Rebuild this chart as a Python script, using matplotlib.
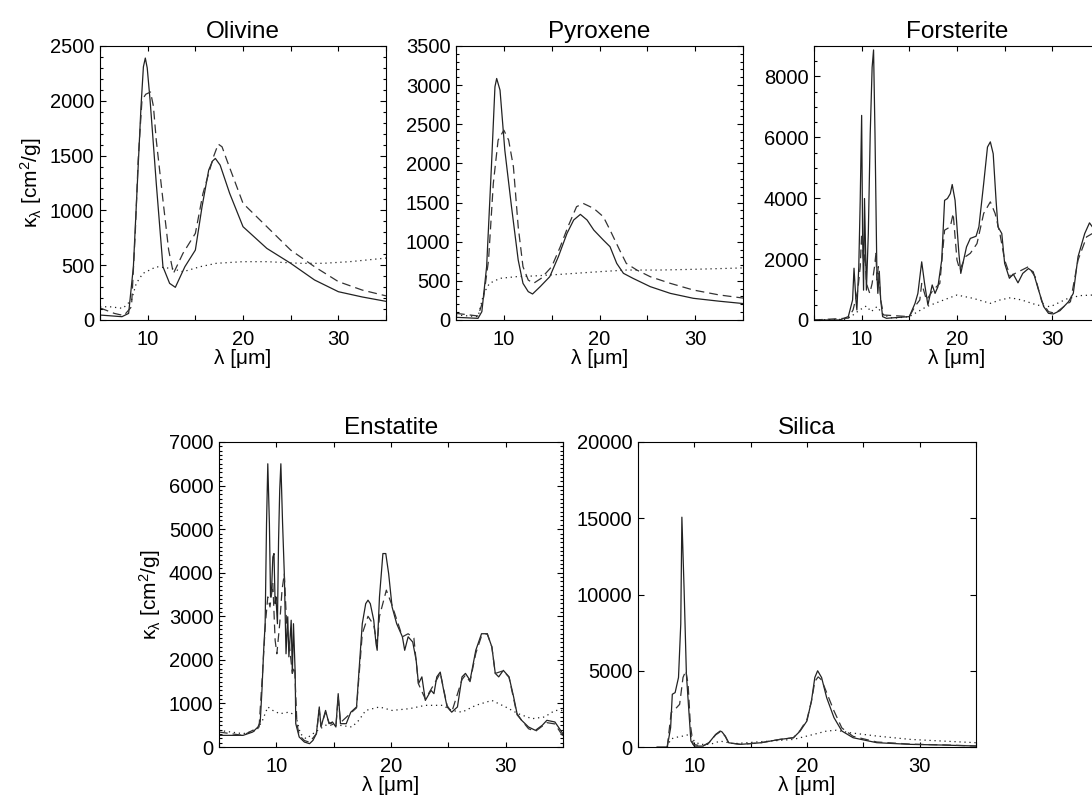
import numpy as np
import matplotlib
matplotlib.use("Agg")
import matplotlib.pyplot as plt
from matplotlib.ticker import FixedLocator, MultipleLocator, NullLocator

plt.rcParams['font.family'] = ['Liberation Sans', 'DejaVu Sans']
plt.rcParams['mathtext.fontset'] = 'custom'
plt.rcParams['mathtext.rm'] = 'Liberation Sans'
plt.rcParams['mathtext.default'] = 'regular'

# --- Olivine
oli_sol_x = [5, 7.3, 8.0, 8.5, 9.0, 9.3, 9.55, 9.75, 9.95, 10.25, 10.6, 10.9, 11.6, 12.3, 12.9, 13.9, 15.0, 15.7, 16.4, 16.8, 17.1, 17.6, 18.6, 20.0, 22.5, 25.0, 27.5, 30.0, 32.5, 35]
oli_sol_y = [45, 30, 60, 486, 1400, 1950, 2310, 2390, 2300, 2006, 1600, 1246, 486, 334, 298, 486, 638, 1033, 1368, 1450, 1474, 1413, 1155, 851, 653, 517, 365, 258, 210, 170]
oli_das_x = [5, 6.5, 7.5, 8.3, 8.7, 9.0, 9.4, 9.8, 10.3, 10.6, 10.9, 11.6, 12.2, 12.7, 13.7, 15.0, 15.8, 16.9, 17.4, 17.8, 18.3, 20.0, 22.5, 25.0, 27.5, 30.0, 32.5, 35]
oli_das_y = [110, 60, 40, 120, 800, 1460, 2006, 2060, 2080, 1950, 1641, 1094, 638, 425, 608, 790, 1155, 1489, 1605, 1580, 1459, 1064, 851, 638, 486, 350, 273, 220]
oli_dot_x = [5, 6, 7.4, 8.3, 8.8, 9.5, 10.9, 12.5, 13.7, 15.5, 17.2, 20, 22.5, 26, 28.4, 31.2, 33.3, 35]
oli_dot_y = [120, 121, 106, 182, 334, 425, 486, 470, 440, 486, 517, 532, 532, 517, 517, 532, 550, 565]

# --- Pyroxene
pyr_sol_x = [5, 7.3, 7.7, 8.2, 8.7, 9.07, 9.25, 9.6, 10.1, 10.8, 11.5, 12.0, 12.55, 13.0, 13.8, 14.8, 15.7, 16.6, 17.3, 18.0, 18.7, 19.4, 20.4, 21.1, 21.8, 22.5, 23.5, 25.3, 27.4, 29.8, 32.5, 35]
pyr_sol_y = [34, 21, 106, 681, 1957, 2979, 3085, 2936, 2170, 1447, 766, 468, 362, 332, 426, 553, 809, 1106, 1277, 1349, 1277, 1149, 1021, 936, 723, 596, 532, 426, 340, 277, 240, 210]
pyr_das_x = [5, 7.3, 7.85, 8.4, 8.9, 9.4, 10.0, 10.5, 11.0, 11.5, 12.0, 12.55, 13.1, 13.9, 15.0, 15.9, 16.7, 17.6, 18.3, 19.4, 20.4, 21.1, 22.1, 22.8, 23.9, 25.3, 27.4, 29.8, 32.5, 35]
pyr_das_y = [85, 51, 255, 766, 1745, 2298, 2425, 2298, 1957, 1191, 681, 510, 468, 532, 680, 936, 1191, 1447, 1489, 1425, 1319, 1149, 894, 723, 638, 553, 468, 383, 320, 280]
pyr_dot_x = [5, 7.3, 7.9, 8.5, 9.6, 11.3, 13.1, 15.9, 20, 22.8, 26.3, 29.8, 33.6, 35]
pyr_dot_y = [64, 42, 340, 468, 532, 553, 562, 583, 617, 638, 638, 647, 660, 665]

# --- Forsterite
for_sol_x = [5, 7.7, 8.6, 9.05, 9.2, 9.4, 9.5, 9.7, 9.85, 10.0, 10.1, 10.2, 10.3, 10.5, 10.7, 10.9, 11.1, 11.25, 11.4, 11.6,
             11.7, 11.85, 12.0, 12.2, 12.6, 15.0, 15.6, 15.9, 16.3, 16.6, 16.95, 17.4, 17.7, 18.0, 18.4, 18.7, 19.0, 19.3, 19.5, 19.8,
             20.2, 20.4, 20.7, 21.0, 21.4, 22.0, 22.3, 22.8, 23.2, 23.5, 23.8, 24.1, 24.3, 24.7, 25.0, 25.5, 25.9, 26.4, 26.9, 27.5,
             28.0, 28.5, 29.1, 29.6, 30.1, 30.8, 31.7, 32.2, 32.7, 33.4, 33.9, 34.2, 35]
for_sol_y = [0, 0, 110, 656, 1700, 656, 330, 1750, 3930, 6720, 2840, 980, 3990, 980, 2840, 6120, 8300, 8870, 6120, 1530,
             874, 1600, 656, 110, 55, 110, 546, 874, 1910, 1200, 490, 1150, 874, 1090, 1970, 3930, 3990, 4150, 4450, 3930,
             2190, 1530, 1970, 2400, 2680, 2750, 3060, 4480, 5680, 5850, 5460, 3930, 3060, 2840, 1860, 1370, 1510, 1220, 1530, 1690,
             1580, 1040, 437, 218, 197, 306, 600, 874, 2080, 2840, 3190, 3060, 2900]
for_das_x = [5, 8.6, 9.1, 9.6, 9.85, 10.0, 10.2, 10.35, 10.5, 10.85, 11.1, 11.35, 11.5, 11.6, 11.75, 12.0, 12.3, 15.0, 15.6, 16.1,
             16.3, 16.8, 17.5, 18.2, 18.7, 19.3, 19.6, 20.0, 20.3, 20.9, 21.4, 22.1, 22.8, 23.5, 24.0, 24.5, 25.0, 25.6, 26.1, 26.8,
             27.5, 28.2, 28.9, 29.6, 30.3, 31.2, 31.9, 32.7, 33.6, 34.2, 35]
for_das_y = [0, 60, 330, 980, 1750, 2840, 1860, 2190, 1200, 874, 1200, 1750, 2190, 1310, 1750, 656, 164, 110, 450, 656,
             1200, 656, 984, 1200, 2950, 3060, 3500, 1970, 1640, 2080, 2190, 2510, 3500, 3880, 3500, 2840, 1970, 1420, 1530, 1640,
             1750, 1420, 600, 273, 218, 437, 600, 1970, 2730, 2840, 2900]
for_dot_x = [5, 8.4, 9.1, 9.8, 10.5, 11.0, 11.6, 12.3, 13.3, 15.0, 16.8, 18.6, 20.0, 21.7, 23.5, 24.5, 25.6, 26.8, 28.4, 29.8, 31.5, 32.9, 35]
for_dot_y = [0, 22, 164, 330, 460, 273, 437, 164, 55, 110, 437, 656, 820, 710, 546, 656, 730, 656, 490, 437, 690, 800, 830]

# --- Enstatite
ens_sol_x = [5, 7.1, 7.95, 8.4, 8.6, 8.75, 8.9, 9.03, 9.15, 9.26, 9.4, 9.5, 9.6, 9.7, 9.8, 9.9, 9.97, 10.1, 10.2, 10.3,
             10.4, 10.55, 10.7, 10.85, 11.0, 11.1, 11.3, 11.4, 11.5, 11.65, 11.7, 12.0, 12.45, 12.9, 13.2, 13.5, 13.75, 13.9, 14.3, 14.6,
             14.9, 15.2, 15.4, 15.6, 16.1, 16.5, 17.0, 17.2, 17.5, 17.8, 18.0, 18.2, 18.5, 18.7, 18.8, 19.0, 19.3, 19.55, 19.8, 20.1,
             20.5, 21.0, 21.2, 21.5, 21.9, 22.2, 22.4, 22.7, 23.0, 23.5, 23.75, 24.0, 24.3, 24.6, 24.9, 25.3, 25.8, 26.2, 26.5, 26.9,
             27.4, 27.9, 28.4, 28.8, 29.1, 29.4, 29.8, 30.3, 30.7, 31.0, 31.4, 32.0, 32.6, 33.2, 33.6, 34.3, 34.8, 35]
ens_sol_y = [268, 268, 345, 460, 575, 1300, 2220, 2830, 5130, 6500, 5130, 3445, 3675, 4360, 4440, 3290, 3445, 2830, 4750, 5900,
             6500, 5130, 3980, 2140, 2990, 2070, 2910, 1690, 2830, 1690, 536, 230, 115, 77, 153, 306, 920, 460, 840, 536,
             575, 460, 1225, 536, 536, 800, 920, 1690, 2830, 3290, 3370, 3290, 2910, 2370, 2220, 3445, 4440, 4440, 3980, 3215,
             2830, 2530, 2220, 2530, 2410, 1990, 1455, 1610, 1070, 1300, 1225, 1610, 1720, 1300, 920, 800, 920, 1610, 1690, 1530,
             2220, 2600, 2600, 2300, 1690, 1610, 1760, 1610, 1150, 765, 613, 460, 383, 500, 613, 575, 383, 306]
ens_das_x = [5, 7.1, 8.5, 8.8, 9.05, 9.26, 9.45, 9.7, 9.9, 10.05, 10.3, 10.5, 10.7, 10.9, 11.1, 11.4, 11.6, 11.8, 12.0, 12.45,
             12.9, 13.5, 13.75, 13.9, 14.3, 14.6, 15.2, 15.4, 15.6, 16.5, 17.0, 17.5, 18.0, 18.5, 18.8, 19.0, 19.6, 20.1, 21.0, 21.5,
             22.0, 22.4, 23.0, 24.0, 24.3, 24.9, 25.3, 26.2, 26.5, 26.9, 27.4, 27.9, 28.4, 28.8, 29.1, 29.8, 30.3, 31.0, 32.0, 32.6,
             33.6, 34.3, 35]
ens_das_y = [345, 268, 460, 1690, 2830, 3445, 3215, 3750, 2450, 2140, 2830, 3600, 3980, 2830, 2450, 1690, 1840, 536, 270, 150,
             110, 306, 850, 480, 800, 560, 480, 1150, 560, 780, 900, 2600, 3000, 2800, 2350, 3000, 3600, 3250, 2530, 2600,
             2500, 1450, 1100, 1550, 1700, 950, 800, 1550, 1650, 1500, 2150, 2550, 2600, 2300, 1690, 1750, 1600, 740, 420, 360,
             560, 530, 250]
ens_dot_x = [5, 7.1, 8.3, 8.8, 9.26, 9.7, 10.3, 11.1, 11.7, 12.1, 12.6, 13.2, 14.3, 15.5, 16.6, 17.2, 17.8, 19.0, 20.1, 21.6,
             23.0, 24.5, 25.3, 26.2, 27.4, 28.8, 30.0, 31.1, 32.3, 33.4, 34.3, 35]
ens_dot_y = [383, 306, 383, 613, 920, 840, 765, 800, 727, 306, 190, 306, 500, 500, 460, 613, 840, 920, 840, 880,
             957, 957, 840, 800, 957, 1070, 920, 765, 650, 690, 840, 840]

# --- Silica
sil_sol_x = [6.7, 7.6, 7.9, 8.05, 8.3, 8.6, 8.8, 8.9, 9.1, 9.3, 9.5, 9.7, 10.0, 10.75, 11.3, 11.9, 12.3, 12.45, 12.75, 13.05,
             14.1, 15.9, 17.6, 18.8, 19.4, 20.0, 20.4, 20.7, 20.95, 21.3, 21.75, 22.4, 23.1, 24.1, 26.2, 29.2, 32.1, 35]
sil_sol_y = [0, 0, 1270, 3460, 3570, 4560, 8060, 15070, 10250, 4780, 2580, 400, 60, 60, 280, 830, 1050, 1000, 720, 280,
             175, 280, 500, 610, 1050, 1710, 3020, 4560, 5000, 4560, 3240, 1930, 1050, 610, 285, 175, 130, 65]
sil_das_x = [7.6, 7.95, 8.3, 8.7, 9.0, 9.25, 9.45, 9.65, 9.9, 10.75, 11.3, 11.9, 12.3, 12.75, 13.05, 14.1, 15.9, 17.6, 18.8, 19.4,
             20.0, 20.4, 20.7, 21.0, 21.3, 21.75, 22.4, 23.1, 24.1, 26.2, 29.2, 32.1, 35]
sil_das_y = [0, 2260, 2480, 2800, 4560, 5000, 4120, 1490, 175, 60, 280, 800, 1000, 700, 280, 175, 280, 500, 610, 1100,
             1800, 3000, 4300, 4600, 4400, 3570, 2370, 1250, 700, 330, 190, 140, 70]
sil_dot_x = [7.6, 7.9, 8.2, 9.0, 9.6, 10.0, 10.5, 11.4, 12.3, 13.5, 15.9, 18.8, 20.6, 21.75, 22.6, 23.8, 26.2, 29.2, 32.1, 35]
sil_dot_y = [0, 500, 610, 720, 830, 390, 175, 175, 390, 220, 350, 500, 830, 1050, 1100, 940, 720, 500, 390, 285]

ylabel = 'κ$_{λ}$ [cm$^{2}$/g]'


def panel(fig, rect, title, curves, ymax, ystep, yminor, show_ylabel=False):
    ax = fig.add_axes(rect)
    sx, sy, dx, dy, px, py = curves
    ax.plot(sx, sy, color='#222222', lw=0.9)
    ax.plot(dx, dy, color='#333333', lw=0.9, dashes=[7, 4])
    ax.plot(px, py, color='#222222', lw=0.9, dashes=[1, 3])
    ax.set_xlim(5, 35)
    ax.set_ylim(0, ymax)
    ax.xaxis.set_major_locator(FixedLocator([10, 20, 30]))
    ax.xaxis.set_minor_locator(MultipleLocator(5))
    ax.yaxis.set_major_locator(MultipleLocator(ystep))
    if yminor:
        ax.yaxis.set_minor_locator(MultipleLocator(yminor))
    else:
        ax.yaxis.set_minor_locator(NullLocator())
    ax.tick_params(which='both', direction='in', top=True, right=True, labelsize=14.5, width=0.8)
    ax.tick_params(axis='y', which='major', length=4.5, pad=4)
    ax.tick_params(axis='y', which='minor', length=2.2)
    ax.tick_params(axis='x', which='both', length=3.5, pad=7)
    for s in ax.spines.values():
        s.set_linewidth(0.8)
    ax.set_title(title, fontsize=17.5, pad=6)
    ax.set_xlabel('λ [μm]', fontsize=15, labelpad=0)
    if show_ylabel:
        ax.set_ylabel(ylabel, fontsize=15, labelpad=4)
    return ax


fig = plt.figure(figsize=(10.92, 8.07), dpi=100)

panel(fig, [0.0916, 0.6035, 0.2619, 0.3395], 'Olivine',
      (oli_sol_x, oli_sol_y, oli_das_x, oli_das_y, oli_dot_x, oli_dot_y), 2500, 500, 100, True)
panel(fig, [0.4176, 0.6035, 0.2628, 0.3395], 'Pyroxene',
      (pyr_sol_x, pyr_sol_y, pyr_das_x, pyr_das_y, pyr_dot_x, pyr_dot_y), 3500, 500, 100)
panel(fig, [0.7454, 0.6035, 0.2619, 0.3395], 'Forsterite',
      (for_sol_x, for_sol_y, for_das_x, for_das_y, for_dot_x, for_dot_y), 9000, 2000, 500)
panel(fig, [0.2005, 0.0743, 0.3150, 0.3780], 'Enstatite',
      (ens_sol_x, ens_sol_y, ens_das_x, ens_das_y, ens_dot_x, ens_dot_y), 7000, 1000, 100, True)
panel(fig, [0.5842, 0.0743, 0.3095, 0.3780], 'Silica',
      (sil_sol_x, sil_sol_y, sil_das_x, sil_das_y, sil_dot_x, sil_dot_y), 20000, 5000, None)

fig.savefig('out.png', dpi=100)
